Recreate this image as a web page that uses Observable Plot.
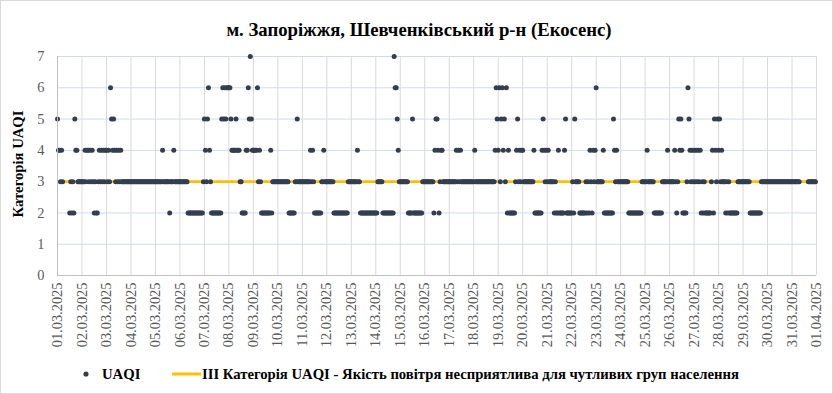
<!DOCTYPE html>
<html><head><meta charset="utf-8">
<script src="https://cdn.jsdelivr.net/npm/d3@7"></script>
<script src="https://cdn.jsdelivr.net/npm/@observablehq/plot@0.6"></script>
<style>
body{margin:0;background:#fff;}
#wrap{position:relative;width:833px;height:394px;overflow:hidden;font-family:"Liberation Serif","Times New Roman",serif;background:#fff;}
#frame{position:absolute;left:0;top:0;width:831px;height:392px;border:1px solid #d9d9d9;pointer-events:none;}
#title{position:absolute;left:0;top:19px;width:838px;text-align:center;font-weight:bold;font-size:18.7px;color:#000;line-height:22px;}
#chart{position:absolute;left:0;top:45px;}
#ylabel{position:absolute;left:18px;top:164px;transform:translate(-50%,-50%) rotate(-90deg);font-weight:bold;font-size:14.7px;white-space:nowrap;color:#000;}
.leg{position:absolute;top:365px;font-weight:bold;font-size:14.7px;color:#000;line-height:18px;white-space:nowrap;}
</style></head>
<body>
<div id="wrap">
  <div id="title"></div>
  <div id="ylabel"></div>
  <div id="chart"></div>
  <svg style="position:absolute;left:0;top:0" width="833" height="394">
    <circle id="legDot" cx="86" cy="374" r="2.6" fill="#333f50"></circle>
    <line id="legLine" x1="172" x2="201" y1="374" y2="374" stroke="#ffc000" stroke-width="3"></line>
  </svg>
  <div class="leg" id="leg1" style="left:102px"></div>
  <div class="leg" id="leg2" style="left:202px"></div>
  <div id="frame"></div>
</div>
<script>
const titleText = "м. Запоріжжя, Шевченківський р-н (Екосенс)";
const yAxisTitle = "Категорія UAQI";
const seriesName = "UAQI";
const thresholdName = "III Категорія UAQI - Якість повітря несприятлива для чутливих груп населення";
const thresholdLevel = 3;
const yTicks = [0, 1, 2, 3, 4, 5, 6, 7];
const startDate = new Date(Date.UTC(2025, 2, 1));
const endDate = new Date(Date.UTC(2025, 3, 1));
// hourly UAQI category per day (24 chars, "-" = no data), 01.03.2025 ... 31.03.2025
const uaqiByDay = [
  "544343------232325443333",
  "333434434343232234343434",
  "434365454343434333333333",
  "333333333333333333333333",
  "333333343333332333433333",
  "333333332222222222222223",
  "543564322222222225656566",
  "665444454443322224465754",
  "444463432222222224233333",
  "333333333332222223353333",
  "333333334343222222233433",
  "333333322222222222222333",
  "333333433222222222222222",
  "223333322222222222766543",
  "333333332222522222222233",
  "333333333245542344333333",
  "333333343434333333333333",
  "343333333333333333333465",
  "463564536242222223453434",
  "433333333334222222245434",
  "343333323224222224522222",
  "232533332222223232432434",
  "633333342222222225434333",
  "333333332222222222222333",
  "334333333222222223333343",
  "333334323545422223654343",
  "434343423232222223425435",
  "453433323232222222233333",
  "333333322222222222333333",
  "333333333333333333333333",
  "33333333--------33333333"
];

document.getElementById("title").textContent = titleText;
document.getElementById("ylabel").textContent = yAxisTitle;
document.getElementById("leg1").textContent = seriesName;
document.getElementById("leg2").textContent = thresholdName;

const points = [];
uaqiByDay.forEach((s, d) => {
  [...s].forEach((c, h) => {
    if (c !== "-") points.push({date: new Date(Date.UTC(2025, 2, 1 + d, h)), v: +c});
  });
});
const tickDates = d3.utcDay.range(startDate, d3.utcDay.offset(endDate, 1));

const chart = Plot.plot({
  width: 833,
  height: 310,
  marginLeft: 57,
  marginRight: 17,
  marginTop: 11,
  marginBottom: 80,
  style: {fontFamily: "'Liberation Serif', 'Times New Roman', serif", fontSize: "14.4px", color: "#595959", background: "transparent", overflow: "visible"},
  x: {type: "utc", domain: [startDate, endDate], ticks: tickDates, tickFormat: d3.utcFormat("%d.%m.%Y"), tickRotate: -90, tickSize: 0, tickPadding: 7, label: null},
  y: {domain: [0, 7], ticks: yTicks, tickFormat: d => String(d), tickSize: 0, tickPadding: 13, label: null},
  marks: [
    Plot.ruleX(tickDates.slice(1), {stroke: "#d9d9d9", strokeWidth: 1}),
    Plot.ruleY(yTicks.slice(1), {stroke: "#d0daef", strokeWidth: 1}),
    Plot.ruleY([thresholdLevel], {stroke: "#ffc000", strokeWidth: 2.6}),
    Plot.dot(points, {x: "date", y: "v", r: 2.5, fill: "#333f50", stroke: null}),
    Plot.ruleY([0], {stroke: "#bfbfbf", strokeWidth: 1}),
    Plot.ruleX([startDate], {stroke: "#bfbfbf", strokeWidth: 1})
  ]
});
document.getElementById("chart").appendChild(chart);
</script>
</body></html>
